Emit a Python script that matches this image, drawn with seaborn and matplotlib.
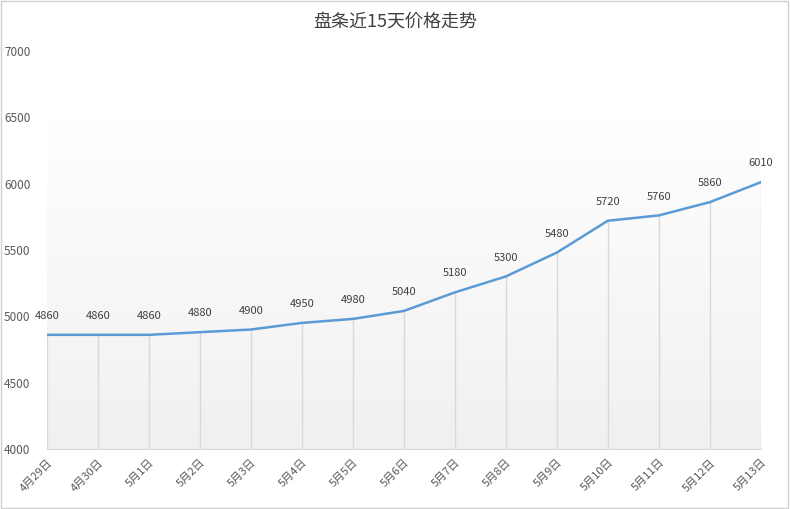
import matplotlib
matplotlib.use("Agg")
import matplotlib.pyplot as plt
from matplotlib import font_manager as fm
import seaborn as sns
import numpy as np
import pandas as pd

cjk = [f.name for f in fm.fontManager.ttflist if "CJK" in f.name or "Noto Sans SC" in f.name]
pref = [n for n in ["Noto Sans CJK SC", "Noto Sans CJK JP", "Noto Sans CJK TC", "Noto Sans CJK KR"] if n in cjk] or cjk
plt.rcParams["font.family"] = "sans-serif"
plt.rcParams["font.sans-serif"] = pref + ["DejaVu Sans"]

dates = ["4月29日", "4月30日", "5月1日", "5月2日", "5月3日", "5月4日", "5月5日", "5月6日",
         "5月7日", "5月8日", "5月9日", "5月10日", "5月11日", "5月12日", "5月13日"]
prices = [4860, 4860, 4860, 4880, 4900, 4950, 4980, 5040, 5180, 5300, 5480, 5720, 5760, 5860, 6010]
yticks = [4000, 4500, 5000, 5500, 6000, 6500, 7000]

df = pd.DataFrame({"date": dates, "price": prices, "x": np.arange(len(dates))})

fig = plt.figure(figsize=(7.9, 5.09), dpi=100)
fig.patches.append(plt.Rectangle((0.001, 0.001), 0.997, 0.997, transform=fig.transFigure,
                                 fill=False, edgecolor="#d0d0d0", lw=1))
ax = fig.add_axes([0.0595, 0.118, 0.9035, 0.782])

grad = np.linspace(0, 1, 256).reshape(-1, 1)
from matplotlib.colors import LinearSegmentedColormap
cmap = LinearSegmentedColormap.from_list("g", ["#f0f0f0", "#ffffff"])
ax.imshow(grad, aspect="auto", cmap=cmap, origin="lower",
          extent=[0, len(dates) - 1, 4000, 6500], zorder=0)

ax.vlines(df["x"], 4000, df["price"], color="#d9d9d9", lw=1, zorder=1)
sns.lineplot(data=df, x="x", y="price", ax=ax, color="#5b9bd5", lw=1.8, zorder=3)
for xi, p in zip(df["x"], prices):
    ax.annotate(str(p), (xi, p), xytext=(0, 10), textcoords="offset points",
                ha="center", va="bottom", fontsize=8, color="#404040")

ax.set_xlim(0, len(dates) - 1)
ax.set_ylim(4000, 7000)
ax.set_yticks(yticks)
ax.set_yticklabels([str(v) for v in yticks], fontsize=8.5, color="#595959")
ax.set_xticks(df["x"])
ax.set_xticklabels(dates, rotation=45, ha="right", rotation_mode="anchor", fontsize=8, color="#595959")
ax.tick_params(length=0, pad=6)
ax.tick_params(axis="y", pad=12)
for s in ["top", "right", "left"]:
    ax.spines[s].set_visible(False)
ax.spines["bottom"].set_color("#d9d9d9")
ax.set_xlabel("")
ax.set_ylabel("")
fig.text(0.5, 0.955, "盘条近15天价格走势", ha="center", va="center", fontsize=13, color="#404040")
fig.savefig("out.png", dpi=100)
